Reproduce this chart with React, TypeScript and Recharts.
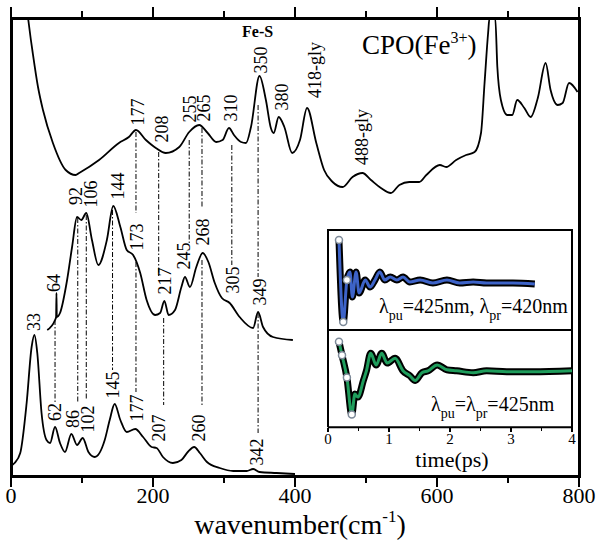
import React from "react";
import { LineChart, Line, XAxis, YAxis, ReferenceLine, ReferenceDot } from "recharts";

const SERIF = "'Liberation Serif', 'Times New Roman', serif";

// [wavenumber, intensity] (arbitrary units); the frame top is 457
const cpoFe3: [number, number][] = [
  [24, 457], [28, 435], [30, 425], [38, 388], [45, 365], [59, 332], [77, 305],
  [91, 300], [96, 302], [124, 315], [152, 332], [166, 338], [176, 345], [190, 335],
  [204, 327], [218, 322], [237, 328], [251, 343], [265, 350], [277, 342], [289, 333],
  [298, 335], [307, 347], [314, 340], [324, 333], [331, 332], [338, 348], [350, 399],
  [359, 375], [366, 347], [370, 342], [377, 358], [385, 348], [396, 322], [407, 335],
  [417, 367], [430, 332], [441, 305], [453, 293], [467, 288], [481, 298], [495, 302],
  [507, 295], [521, 287], [535, 282], [547, 290], [561, 293], [575, 293], [585, 300],
  [604, 310], [613, 308], [627, 315], [641, 320], [653, 323], [662, 342], [667, 392],
  [672, 442], [674, 457], [682, 457], [685, 408], [690, 375], [699, 360], [706, 360],
  [713, 375], [723, 367], [732, 358], [742, 377], [753, 412], [760, 385], [770, 370],
  [777, 372], [786, 392], [798, 383],
];

const spectrumMid: [number, number][] = [
  [51, 145], [62, 155], [63.5, 158], [64, 182], [64.5, 158], [69, 162], [79, 195],
  [86, 228], [93, 258], [99, 255], [106, 262], [114, 235], [123, 210], [135, 235],
  [144, 269], [154, 248], [163, 225], [172, 220], [182, 202], [191, 175], [203, 160],
  [210, 162], [216, 174], [222, 160], [231, 165], [240, 188], [245, 198], [252, 188],
  [261, 208], [270, 222], [278, 213], [287, 192], [297, 177], [308, 172], [322, 158],
  [341, 147], [348, 163], [355, 148], [369, 138], [397, 135],
];

const spectrumLow: [number, number][] = [
  [0, 9], [5, 12], [13, 22], [22, 72], [29, 128], [33, 140], [37, 122], [43, 62],
  [50, 35], [55, 32], [62, 48], [69, 32], [76, 23], [85, 41], [93, 30], [101, 37],
  [109, 23], [118, 18], [132, 35], [139, 55], [146, 71], [154, 55], [163, 43],
  [175, 46], [186, 38], [198, 28], [205, 27], [214, 18], [228, 12], [240, 15],
  [249, 23], [258, 28], [266, 22], [276, 13], [294, 7], [313, 4], [332, 4], [341, 6],
  [350, 3], [374, 2], [400, 1],
];

const mainTicks = [0, 100, 200, 300, 400, 500, 600, 700, 800];
const mainLabels = [0, 200, 400, 600, 800];
const Y_TOP = 457;

// peak labels: [x, y, text]
const labelsTop: [number, number, string][] = [
  [179, 363, "177"], [213, 346, "208"], [252, 366, "255"], [272, 367, "265"],
  [310, 367, "310"], [352, 415, "350"], [381, 378, "380"], [428, 405, "418-gly"],
  [494, 338, "488-gly"],
];
const labelsMid: [number, number, string][] = [
  [61, 192, "64"], [91, 279, "92"], [112, 281, "106"], [150, 289, "144"],
  [177, 238, "173"], [217, 194, "217"], [244, 219, "245"], [270, 243, "268"],
  [312, 195, "305"], [350, 183, "349"],
];
const labelsLow: [number, number, string][] = [
  [32, 153, "33"], [62, 63, "62"], [87, 56, "86"], [108, 56, "102"], [143, 90, "145"],
  [177, 67, "177"], [209, 47, "207"], [265, 47, "260"], [346, 23, "342"],
];

// dash-dot guides: [x, yFrom, yTo]
const guides: [number, number, number][] = [
  [62, 155, 73], [94, 257, 73], [106, 260, 75], [143, 265, 105],
  [176, 343, 262], [176, 213, 83], [208, 323, 198], [215, 157, 70],
  [251, 335, 232], [269, 347, 268], [269, 215, 70], [311, 330, 210],
  [348, 370, 198], [348, 162, 42],
];

// inset traces: [time ps, signal]
const tracePu425Pr420: [number, number][] = [
  [0.18, 90], [0.25, 8], [0.31, 50], [0.36, 58], [0.4, 33], [0.46, 58], [0.51, 37],
  [0.61, 50], [0.69, 43], [0.77, 50], [0.85, 58], [0.93, 50], [1.02, 53], [1.13, 50],
  [1.23, 53], [1.34, 48], [1.51, 50], [1.72, 47], [1.95, 50], [2.16, 47], [2.38, 48],
  [2.6, 47], [2.82, 47], [3.03, 47], [3.39, 46],
];
const tracePu425Pr425: [number, number][] = [
  [0.18, 88], [0.23, 74], [0.31, 51], [0.39, 13], [0.44, 34], [0.49, 31], [0.58, 48],
  [0.63, 58], [0.7, 76], [0.79, 64], [0.88, 76], [0.97, 66], [1.1, 71], [1.23, 58],
  [1.34, 53], [1.43, 48], [1.54, 56], [1.64, 58], [1.79, 64], [1.95, 59], [2.11, 58],
  [2.38, 56], [2.6, 58], [2.93, 57], [3.36, 57], [4.0, 58],
];
const insetTicks = [0, 0.5, 1, 1.5, 2, 2.5, 3, 3.5, 4];
const insetLabels = [0, 1, 2, 3, 4];

const pts = (a: [number, number][]) => a.map(([x, v]) => ({ x, v }));
const box = (x0: number, x1: number, y0: number, y1: number) =>
  pts([[x0, y0], [x1, y0], [x1, y1], [x0, y1], [x0, y0]]);

// pixel mapping of the main and inset x axes (same as the charts' domains/margins)
const mainX = (v: number) => 11 + v * 0.71;
const insetX = (t: number) => 328 + t * 61;

function TickLabel(p: any) {
  const { x, y, payload, size, dy } = p;
  return (
    <text x={x} y={y} dy={dy} textAnchor="middle" fontSize={size} fontFamily={SERIF} fill="#000">
      {payload.value}
    </text>
  );
}

const peakShape = (text: string) => (p: any) => (
  <text
    x={p.cx}
    y={p.cy}
    transform={`rotate(-90 ${p.cx} ${p.cy})`}
    textAnchor="middle"
    dominantBaseline="central"
    fontSize={18}
    fontFamily={SERIF}
    fill="#000"
  >
    {text}
  </text>
);

const overlay = (left: number, top: number, size: number, extra: React.CSSProperties = {}) => ({
  position: "absolute" as const,
  left,
  top,
  fontSize: size,
  lineHeight: 1,
  fontFamily: SERIF,
  whiteSpace: "nowrap" as const,
  color: "#000",
  ...extra,
});

const sub: React.CSSProperties = { fontSize: 14, position: "relative", top: 7 };

const tickMark = (x: number, top: number, h: number, w = 2): React.CSSProperties => ({
  position: "absolute", left: x - w / 2, top, width: w, height: h, background: "#000",
});

export default function App() {
  const allLabels = [...labelsTop, ...labelsMid, ...labelsLow];
  return (
    <div style={{ position: "absolute", left: 0, top: 0, width: 601, height: 556, background: "#fff" }}>
      <LineChart width={601} height={556} margin={{ top: 8, right: 19, bottom: 0, left: 8 }}>
        <XAxis
          xAxisId="b" type="number" dataKey="x" domain={[-4.25, 804.25]} ticks={mainLabels} interval={0}
          height={71} tickSize={0} tickMargin={0} tickLine={false} axisLine={false}
          tick={(p: any) => <TickLabel {...p} size={22} dy={18} />}
        />
        <YAxis yAxisId="l" hide domain={[-10, Y_TOP + 10]} />

        {guides.map(([x, y1, y2], i) => (
          <ReferenceLine
            key={`g${i}`} xAxisId="b" yAxisId="l"
            segment={[{ x, y: y1 }, { x, y: y2 }]}
            stroke="#000" strokeWidth={1} strokeDasharray="5 2 1.5 2"
          />
        ))}

        {[cpoFe3, spectrumMid, spectrumLow].map((s, i) => (
          <Line
            key={`s${i}`} xAxisId="b" yAxisId="l" data={pts(s)} dataKey="v" type="monotone"
            stroke="#000" strokeWidth={1.8} dot={false} isAnimationActive={false}
          />
        ))}

        {allLabels.map(([x, y, t], i) => (
          <ReferenceDot
            key={`p${i}`} xAxisId="b" yAxisId="l" x={x} y={y} r={0}
            shape={peakShape(t)}
          />
        ))}
      </LineChart>

      {/* main frame and tick marks */}
      <div style={{ position: "absolute", left: 10, top: 17, width: 565, height: 455, border: "3px solid #000", pointerEvents: "none" }} />
      {mainTicks.map((t) => {
        const len = t % 200 === 0 ? 10 : 6;
        return (
          <React.Fragment key={`mt${t}`}>
            <div style={tickMark(mainX(t), 477, len)} />
            <div style={tickMark(mainX(t), 17 - len, len)} />
          </React.Fragment>
        );
      })}

      <div style={overlay(242, 24, 16, { fontWeight: "bold" })}>Fe-S</div>
      <div style={overlay(362, 32, 27)}>
        CPO(Fe<span style={{ fontSize: 16, position: "relative", top: -11 }}>3+</span>)
      </div>
      <div style={overlay(300, 511, 28, { transform: "translateX(-50%)" })}>
        wavenumber(cm<span style={{ fontSize: 17, position: "relative", top: -12 }}>-1</span>)
      </div>

      {/* inset, upper panel: v 0..100 over y 230..330 */}
      <div style={{ position: "absolute", left: 314, top: 220 }}>
        <LineChart width={272} height={120} margin={{ top: 10, right: 14, bottom: 10, left: 14 }}>
          <XAxis xAxisId="b" type="number" dataKey="x" domain={[0, 4]} hide />
          <YAxis yAxisId="l" domain={[0, 100]} hide />
          <Line xAxisId="b" yAxisId="l" data={box(0, 4, 0, 100)} dataKey="v" type="linear" stroke="#000" strokeWidth={2} dot={false} isAnimationActive={false} />
          <Line xAxisId="b" yAxisId="l" data={pts(tracePu425Pr420)} dataKey="v" type="monotone" stroke="#000" strokeWidth={7} dot={false} isAnimationActive={false} />
          <Line xAxisId="b" yAxisId="l" data={pts(tracePu425Pr420)} dataKey="v" type="monotone" stroke="#3d63c8" strokeWidth={3} dot={false} isAnimationActive={false} />
          <Line xAxisId="b" yAxisId="l" data={pts(tracePu425Pr420.slice(0, 3))} dataKey="v" stroke="none" dot={{ r: 3.5, fill: "#fff", stroke: "#7d8a99", strokeWidth: 1.5 }} isAnimationActive={false} />
        </LineChart>
      </div>

      {/* inset, lower panel: v -5..100 over y 432..330 */}
      <div style={{ position: "absolute", left: 314, top: 320 }}>
        <LineChart width={272} height={150} margin={{ top: 10, right: 14, bottom: 0, left: 14 }}>
          <XAxis
            xAxisId="b" type="number" dataKey="x" domain={[0, 4]} ticks={insetLabels} interval={0}
            height={38} tickSize={0} tickMargin={0} tickLine={false} axisLine={false}
            tick={(p: any) => <TickLabel {...p} size={15} dy={12} />}
          />
          <YAxis yAxisId="l" domain={[-5, 100]} hide />
          <Line xAxisId="b" yAxisId="l" data={box(0, 4, 0, 100)} dataKey="v" type="linear" stroke="#000" strokeWidth={2} dot={false} isAnimationActive={false} />
          <Line xAxisId="b" yAxisId="l" data={pts(tracePu425Pr425)} dataKey="v" type="monotone" stroke="#000" strokeWidth={7} dot={false} isAnimationActive={false} />
          <Line xAxisId="b" yAxisId="l" data={pts(tracePu425Pr425)} dataKey="v" type="monotone" stroke="#1f9d5c" strokeWidth={3} dot={false} isAnimationActive={false} />
          <Line xAxisId="b" yAxisId="l" data={pts(tracePu425Pr425.slice(0, 4))} dataKey="v" stroke="none" dot={{ r: 3.5, fill: "#fff", stroke: "#7d8a99", strokeWidth: 1.5 }} isAnimationActive={false} />
        </LineChart>
      </div>
      {insetTicks.map((t) => (
        <div key={`it${t}`} style={tickMark(insetX(t), 428, Number.isInteger(t) ? 4 : 3, 1.5)} />
      ))}

      <div style={overlay(379, 296, 20)}>
        λ<span style={sub}>pu</span>=425nm, λ<span style={sub}>pr</span>=420nm
      </div>
      <div style={overlay(431, 394, 20)}>
        λ<span style={sub}>pu</span>=λ<span style={sub}>pr</span>=425nm
      </div>
      <div style={overlay(452, 449, 22, { transform: "translateX(-50%)" })}>time(ps)</div>
    </div>
  );
}
